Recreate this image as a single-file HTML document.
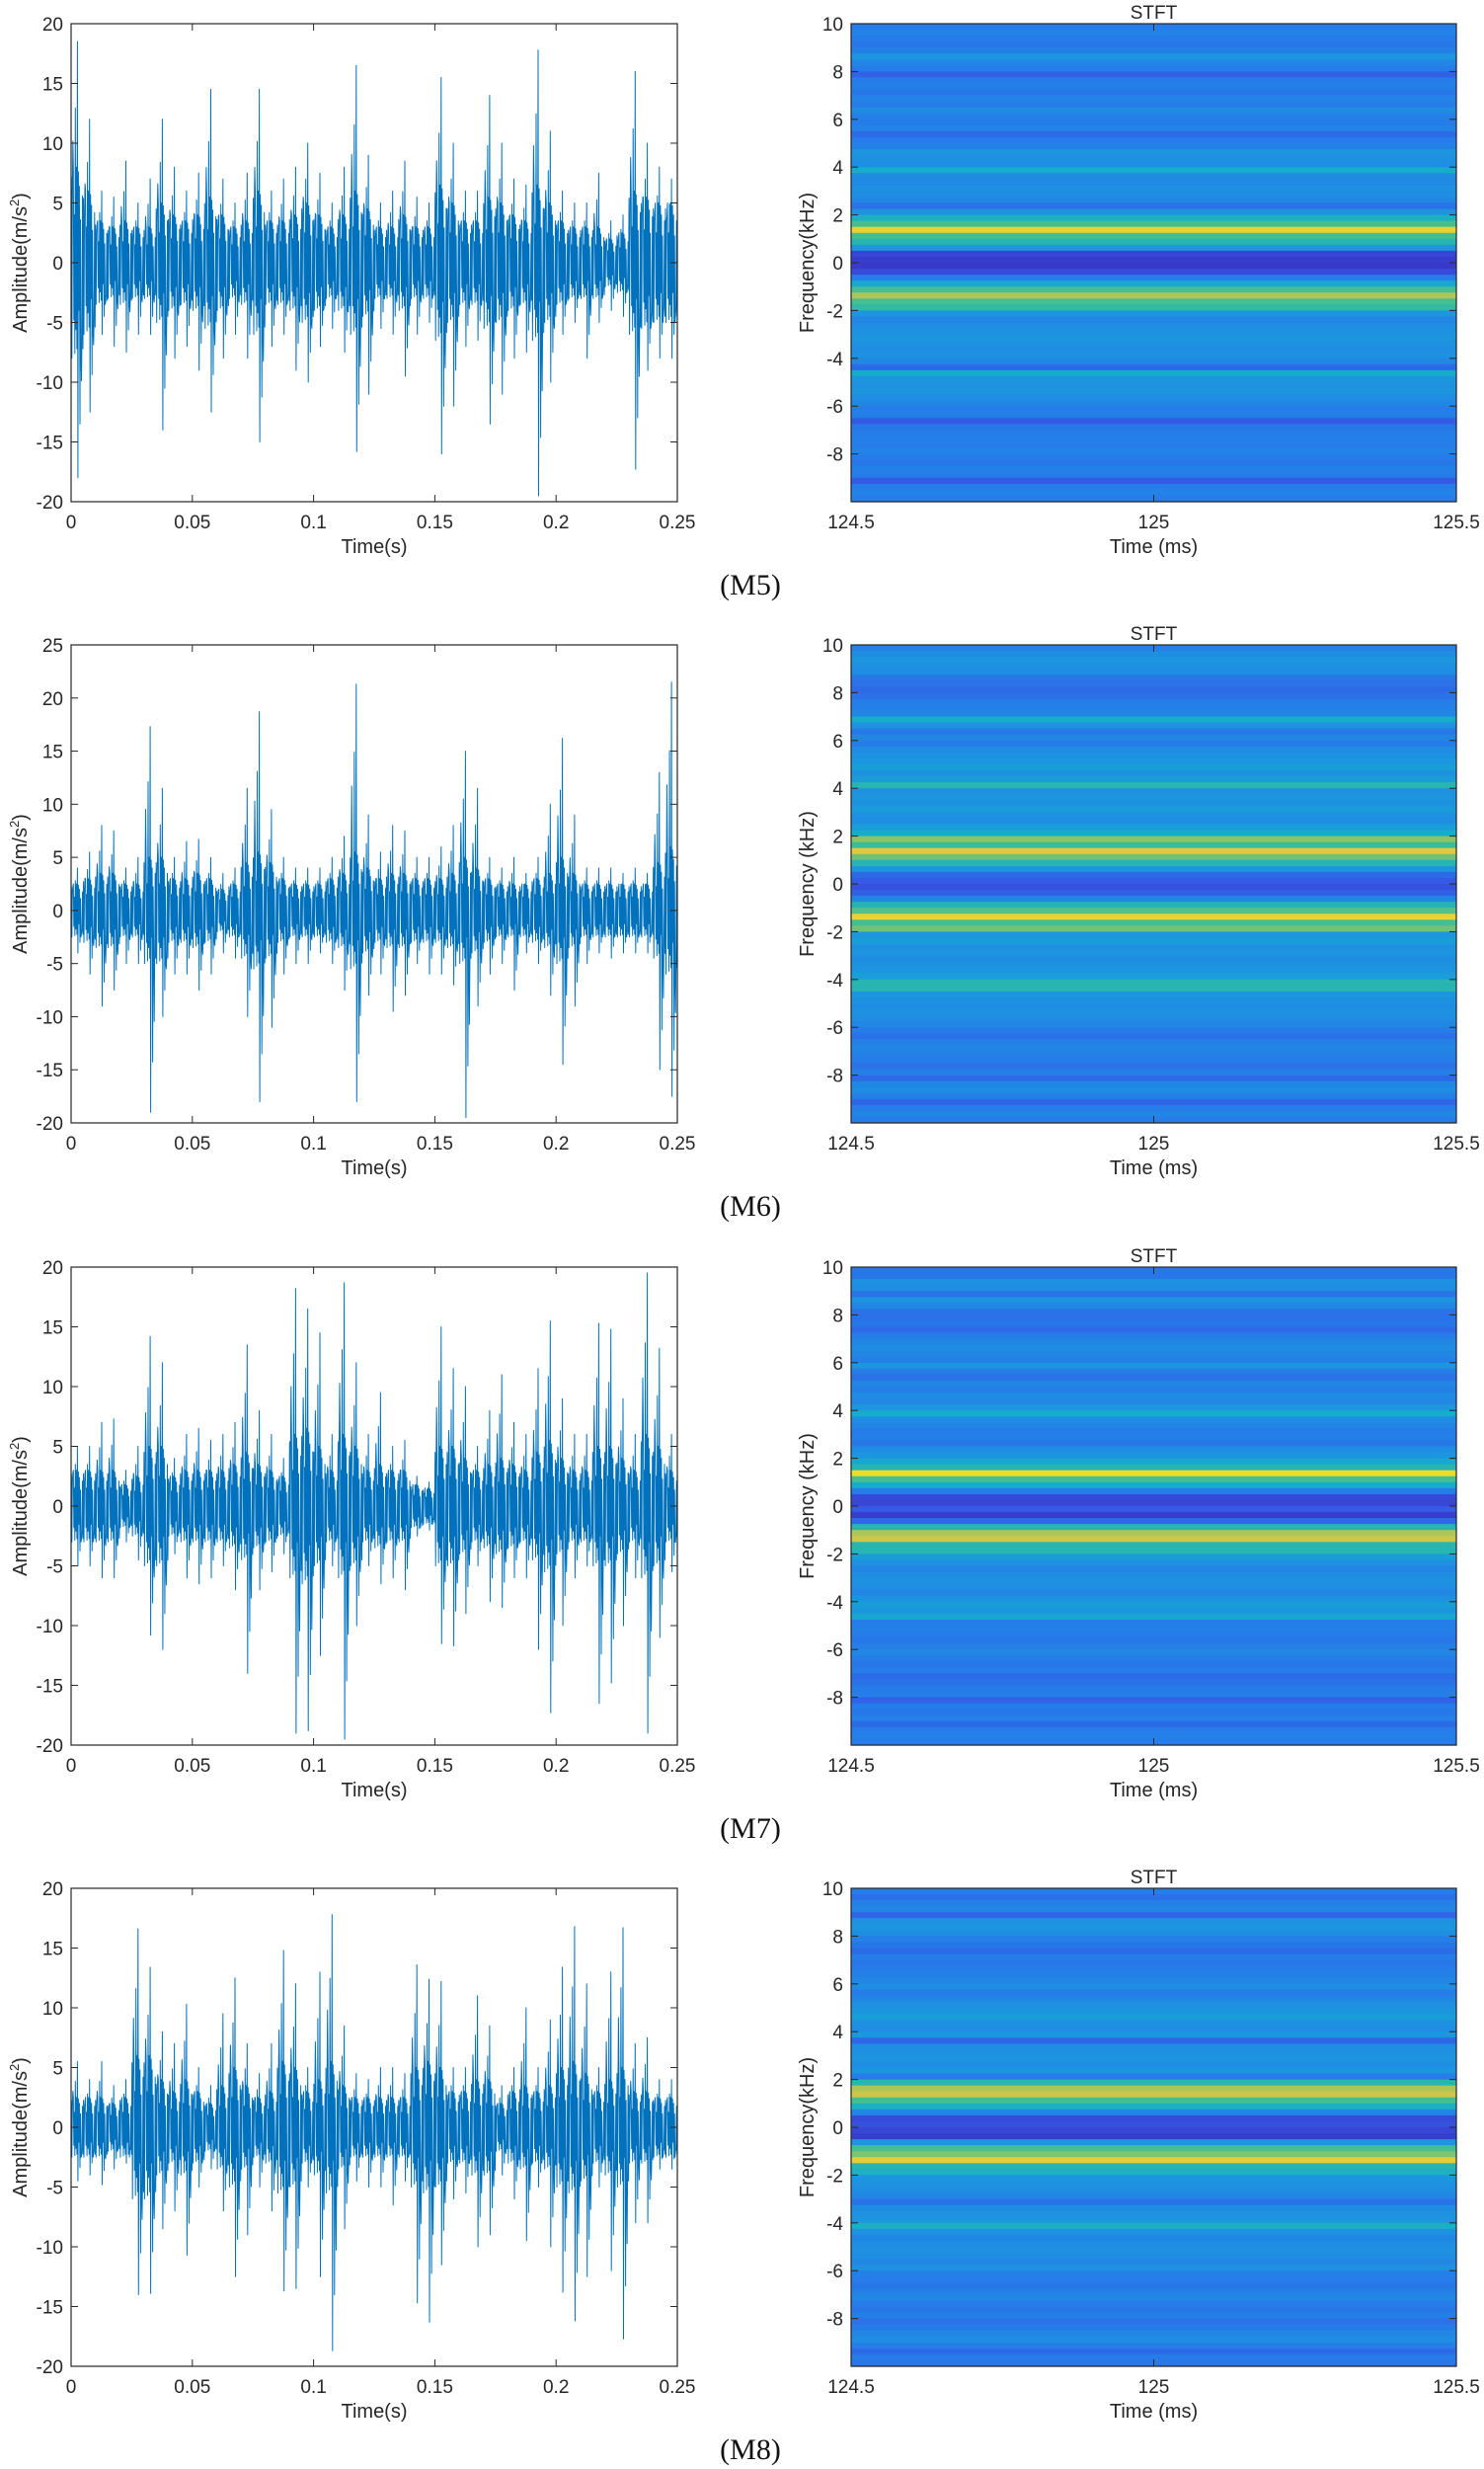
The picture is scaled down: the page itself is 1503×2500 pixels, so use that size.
<!DOCTYPE html>
<html><head><meta charset="utf-8"><style>
html,body{margin:0;padding:0;background:#fff;}
svg{display:block;}
text{font-family:"Liberation Sans",Arial,sans-serif;fill:#262626;}
.cap{font-family:"Liberation Serif","Times New Roman",serif;fill:#111;}
</style></head><body>
<svg id="fig" width="1503" height="2500" viewBox="0 0 1503 2500" xmlns="http://www.w3.org/2000/svg"></svg>
<script>
// ---------- data ----------
const panelLabels = ["(M5)","(M6)","(M7)","(M8)"];
const timeTicks = [0,0.05,0.1,0.15,0.2,0.25];
const timeTickLabels = ["0","0.05","0.1","0.15","0.2","0.25"];
const ampRanges = [[-20,20],[-20,25],[-20,20],[-20,20]];
const freqTicks = [10,8,6,4,2,0,-2,-4,-6,-8];
const stftTimeTicks = [124.5,125,125.5];
const stftTimeLabels = ["124.5","125","125.5"];
const freqLabels = ["Frequency(kHz)","Frequency (kHz)","Frequency (kHz)","Frequency(kHz)"];

// waveform envelopes, 50 bins of 5 ms each
const m5Hi=[18.5,12,6,5.5,8.5,5,7,12,8,6,7.5,14.5,7,5,7.5,14.5,6,7,8,10,7.5,5,8,16.5,9,5,6,8.5,5.5,5,15.5,10,6,6,14,10,7,6.5,17.8,11,6,5,5,7.5,3.5,4,16,10,8,7];
const m5Lo=[-18,-12.5,-6,-7,-7.5,-6,-6,-14,-8,-7,-9,-12.5,-8,-6,-8,-15,-7,-6,-9,-10,-7,-5.5,-7.5,-15.8,-11,-5.5,-6,-9.5,-6,-5,-16,-12,-7,-6.5,-13.5,-11,-8,-7.5,-19.5,-10,-6,-5,-8,-5,-4,-4.5,-17.3,-9,-8,-8];
const m5Core=[8,6,3.5,3,3.5,3,3,5,4,3.5,4,5.5,4,3,3.5,6,3.5,3.5,4,5,4,3,4,6,4.5,3,3,4,3,3,6.5,5,3.5,3.5,5.5,5,4,3.5,6.5,5,3.5,3,3,3,2,2.5,6,5.5,5,5];

const m6Hi=[4,5.5,8,7.5,4,5,17.3,11.5,5,6.5,6.7,5,3.5,4,11.5,18.7,9.5,5,4,4,4,5,7,21.3,9,5.5,8,7.5,5,5,6,8,15,11.5,5,4,5,3.5,5,10,16.2,9,4,4,4,3.5,4,3.5,13,21.5];
const m6Lo=[-4,-6,-9,-7.5,-5,-5,-19,-10,-6,-6,-7.5,-6,-4,-4.5,-10,-18,-11,-6,-5,-5,-4,-5,-7.5,-18,-8,-6,-9.5,-8,-5,-6,-6,-7,-19.5,-9,-6,-5,-7.5,-4,-5,-8,-14.5,-9,-5,-4,-4.5,-4,-4,-4,-15,-17.5];
const m6Core=[2.5,3,3.5,3.5,2.5,2.5,5,5,3,3,3.5,3,2,2.5,4.5,5.5,4.5,3,2.5,2.5,2.5,3,3.5,5.5,4,3,3.5,3.5,3,3,3,3.5,5,4,3,2.5,2.5,2.5,3,3.5,5,3.5,2.5,2.5,2.5,2.5,2.5,2.5,4.5,6];

const m7Hi=[5,5,7,7.3,3,5,14.2,12,4,6,6.5,5.5,6,7,13.5,8,6,4,18.2,16.5,14.5,6,18.7,12,6,9.5,5,5.5,2.5,2,15,11.5,10,5,8,11,7,6,11.5,15.5,9,6,6,15.3,14.8,9,6,19.5,13.2,6];
const m7Lo=[-5,-5,-6,-6,-3,-4.5,-10.8,-12,-4,-6,-6.5,-6,-5,-7,-14,-7,-5.5,-4,-19,-18.8,-12.5,-5,-19.5,-10,-5,-6.5,-6,-7,-2.5,-2,-11.5,-11.7,-9,-5,-8,-8.5,-6,-6,-12,-17.3,-10,-6,-5,-16.5,-14.8,-10,-6,-19,-11,-5.5];
const m7Core=[3,3,3,3,1.8,2.5,5,5,2.5,3,3,3,3,3.5,4.5,3.5,3,2.5,6,6.5,5,3,6,5,3,3.5,3,3,1.8,1.5,5,5,4,3,3.5,4,3.5,3,4.5,5.5,4,3,3,5,5,4,3,6,5,3];

const m8Hi=[5.5,4,5.5,3.5,4,16.6,13.4,8,7,10.3,5,3.5,9.5,12.5,7,4.5,7,14.8,12,5,13,17.8,8.5,4.5,4,5,5,4.5,13.6,12.4,12.2,5,5,11,8.5,3.5,5,10,5,9,13.4,16.8,12,5,13,16.7,7,7.5,4,4];
const m8Lo=[-4.5,-4,-4.8,-3.5,-3,-14,-13.9,-8.5,-7,-10.7,-5,-3.5,-7,-12.5,-9,-5,-7,-13.7,-13.5,-5,-12.5,-18.7,-8.5,-4.5,-5,-5,-6.5,-4.5,-14.7,-16.3,-11.5,-6,-5.5,-10,-9,-4,-6,-9.5,-5,-10,-13.8,-16.2,-12.5,-5,-12,-17.7,-8,-8,-3.5,-3.5];
const m8Core=[2.5,2.5,2.5,2,2.5,6,6,4,3,4,3,2,3.5,5,3.5,2.5,3,5.5,5,3,4,5.5,3.5,2.5,2.5,2.5,2.5,2.5,5,5.5,5,3,3,4,4,2,3,3.5,3,3.5,5,5.5,4.5,3,4,5,3,3,2.5,2.5];

// spectrogram magnitude (0..1), 80 rows of 0.25 kHz, from +10 kHz down to -10 kHz
const s5=[.30,.33,.30,.28,.32,.42,.35,.30,.18,.30,.32,.28,.33,.30,.38,.32,.30,.33,.22,.30,.32,.42,.40,.38,.50,.38,.36,.40,.38,.35,.25,.40,.52,.62,.92,.62,.55,.42,.08,.05,.04,.10,.30,.48,.62,.80,.62,.58,.42,.35,.38,.40,.42,.40,.38,.40,.36,.22,.50,.42,.40,.42,.38,.35,.30,.32,.15,.28,.30,.32,.30,.33,.30,.28,.32,.30,.15,.30,.33,.30];
const s6=[.32,.38,.42,.40,.38,.28,.25,.22,.25,.30,.32,.35,.50,.40,.28,.35,.30,.38,.40,.42,.45,.40,.45,.55,.40,.42,.40,.44,.40,.38,.45,.50,.75,.60,.88,.70,.55,.42,.22,.15,.12,.18,.35,.55,.65,.92,.62,.70,.42,.45,.40,.42,.38,.40,.42,.45,.55,.55,.42,.40,.38,.40,.38,.35,.30,.25,.32,.35,.32,.30,.25,.32,.22,.35,.38,.32,.20,.30,.35,.30];
const s7=[.28,.28,.40,.38,.25,.40,.35,.25,.25,.28,.22,.30,.35,.38,.35,.32,.42,.30,.25,.35,.32,.38,.35,.42,.50,.38,.35,.30,.32,.28,.38,.42,.48,.55,.95,.62,.50,.30,.10,.08,.15,.05,.22,.55,.80,.85,.55,.55,.45,.40,.35,.38,.40,.38,.35,.40,.45,.42,.48,.30,.32,.30,.28,.32,.35,.30,.28,.30,.22,.25,.30,.32,.18,.30,.28,.32,.22,.30,.32,.30];
const s8=[.30,.25,.32,.35,.20,.40,.42,.38,.32,.28,.22,.30,.28,.30,.32,.35,.38,.30,.35,.40,.42,.45,.40,.38,.42,.20,.38,.40,.42,.38,.42,.30,.55,.80,.85,.62,.52,.35,.10,.12,.08,.05,.42,.62,.72,.90,.55,.52,.42,.40,.38,.35,.25,.38,.40,.42,.52,.40,.35,.38,.40,.38,.35,.40,.32,.30,.28,.32,.35,.30,.28,.32,.25,.30,.35,.38,.32,.22,.30,.28];

const waveHi=[m5Hi,m6Hi,m7Hi,m8Hi];
const waveLo=[m5Lo,m6Lo,m7Lo,m8Lo];
const waveCore=[m5Core,m6Core,m7Core,m8Core];
const spec=[s5,s6,s7,s8];

// ---------- layout ----------
const NS="http://www.w3.org/2000/svg";
const svg=document.getElementById('fig');
const rowTop=[24,653,1283,1912];
const axH=484;
const L={x0:72,x1:686};
const R={x0:862,x1:1475};
function mk(tag,attrs,parent){const e=document.createElementNS(NS,tag);for(const k in attrs)e.setAttribute(k,attrs[k]);(parent||svg).appendChild(e);return e;}

const cmapStops=[[0,[59,47,192]],[0.15,[52,90,230]],[0.3,[38,124,232]],[0.42,[28,150,222]],[0.5,[22,172,204]],[0.6,[58,190,152]],[0.75,[140,196,104]],[0.88,[224,200,64]],[1,[248,232,24]]];
function cmap(v){v=Math.max(0,Math.min(1,v));for(let i=1;i<cmapStops.length;i++){if(v<=cmapStops[i][0]){const a=cmapStops[i-1],b=cmapStops[i];const t=(v-a[0])/(b[0]-a[0]);const c=a[1].map((x,j)=>Math.round(x+(b[1][j]-x)*t));return `rgb(${c[0]},${c[1]},${c[2]})`;}}return 'rgb(248,232,24)';}

// stroke pattern within a bin (drawing style only)
const pat=[0.9,-1,0.7,-0.8,1,-0.6,0.5,-0.95,0.85,-0.7,1,-0.9,0.6,-1,0.95,-0.5,0.8,-0.85,0.45,-1,1,-0.75,0.7,-0.9];

for(let r=0;r<4;r++){
  const top=rowTop[r], bot=top+axH;
  const g=mk('g',{});
  
  
  // ---- waveform ----
  const [ymin,ymax]=ampRanges[r];
  const xS=t=>L.x0+(t/0.25)*(L.x1-L.x0);
  const yS=v=>bot-(v-ymin)/(ymax-ymin)*axH;
  const wg=mk('g',{},g);
  
  
  const hi=waveHi[r],lo=waveLo[r],core=waveCore[r];
  const n=hi.length, bw=0.25/n;
  let pts=[];
  const N=pat.length;
  for(let i=0;i<n;i++){
    for(let j=0;j<N;j++){
      const t=i*bw+(j+0.5)/N*bw;
      let v;
      const mid=Math.floor(N/2);
      if(j===mid) v=hi[i];
      else if(j===mid+1) v=lo[i];
      else if(j===mid-4) v=hi[i]*0.7;
      else if(j===mid+5) v=lo[i]*0.75;
      else if(j===3) v=hi[i]*0.55;
      else if(j===N-4) v=lo[i]*0.55;
      else v=core[i]*pat[j];
      pts.push(xS(t).toFixed(1)+','+yS(v).toFixed(1));
    }
  }
  const line=mk('polyline',{points:pts.join(' '),fill:'none',stroke:'#0072BD','stroke-width':'1','stroke-linejoin':'round'},wg);
  
  
  const fr=mk('rect',{x:L.x0,y:top,width:L.x1-L.x0,height:axH,fill:'none',stroke:'#262626','stroke-width':'1.2'},wg);
  
  
  timeTicks.forEach((t,k)=>{
    const x=xS(t);
    mk('line',{x1:x,x2:x,y1:bot,y2:bot-7,stroke:'#262626','stroke-width':'1'},wg);
    mk('line',{x1:x,x2:x,y1:top,y2:top+7,stroke:'#262626','stroke-width':'1'},wg);
    const tx=mk('text',{x:x,y:bot+27,'font-size':'19','text-anchor':'middle'},wg);
    tx.textContent=timeTickLabels[k];
    
    
  });
  for(let v=ymin;v<=ymax;v+=5){
    const y=yS(v);
    mk('line',{x1:L.x0,x2:L.x0+7,y1:y,y2:y,stroke:'#262626','stroke-width':'1'},wg);
    mk('line',{x1:L.x1,x2:L.x1-7,y1:y,y2:y,stroke:'#262626','stroke-width':'1'},wg);
    const tx=mk('text',{x:L.x0-8,y:y+7,'font-size':'19','text-anchor':'end'},wg);
    tx.textContent=String(v);
    
    
  }
  const xl=mk('text',{x:(L.x0+L.x1)/2,y:bot+52,'font-size':'20','text-anchor':'middle'},wg);
  xl.textContent='Time(s)';
  
  
  const yl=mk('text',{x:0,y:0,'font-size':'20','text-anchor':'middle',transform:`translate(27,${(top+bot)/2}) rotate(-90)`},wg);
  yl.innerHTML='Amplitude(m/s<tspan dy="-8" font-size="13">2</tspan><tspan dy="8">)</tspan>';
  
  

  // ---- spectrogram ----
  const sg=mk('g',{},g);
  
  
  const fS=f=>top+(10-f)/20*axH;
  const tS=t=>R.x0+(t-124.5)/1*(R.x1-R.x0);
  const rows=spec[r];
  const df=20/rows.length;
  rows.forEach((v,k)=>{
    const y0=fS(10-k*df), y1=fS(10-(k+1)*df);
    const c=mk('rect',{x:R.x0,y:y0.toFixed(2),width:R.x1-R.x0,height:(y1-y0+0.6).toFixed(2),fill:cmap(v)},sg);
    
    
  });
  const sf=mk('rect',{x:R.x0,y:top,width:R.x1-R.x0,height:axH,fill:'none',stroke:'#262626','stroke-width':'1.2'},sg);
  
  
  stftTimeTicks.forEach((t,k)=>{
    const x=tS(t);
    mk('line',{x1:x,x2:x,y1:bot,y2:bot-7,stroke:'#262626','stroke-width':'1'},sg);
    mk('line',{x1:x,x2:x,y1:top,y2:top+7,stroke:'#262626','stroke-width':'1'},sg);
    const tx=mk('text',{x:x,y:bot+27,'font-size':'19','text-anchor':'middle'},sg);
    tx.textContent=stftTimeLabels[k];
    
    
  });
  freqTicks.forEach(f=>{
    const y=fS(f);
    mk('line',{x1:R.x0,x2:R.x0+7,y1:y,y2:y,stroke:'#262626','stroke-width':'1'},sg);
    mk('line',{x1:R.x1,x2:R.x1-7,y1:y,y2:y,stroke:'#262626','stroke-width':'1'},sg);
    const tx=mk('text',{x:R.x0-8,y:y+7,'font-size':'19','text-anchor':'end'},sg);
    tx.textContent=String(f);
    
    
  });
  const st=mk('text',{x:(R.x0+R.x1)/2,y:top-5,'font-size':'19','text-anchor':'middle'},sg);
  st.textContent='STFT';
  
  
  const sxl=mk('text',{x:(R.x0+R.x1)/2,y:bot+52,'font-size':'20','text-anchor':'middle'},sg);
  sxl.textContent='Time (ms)';
  
  
  const syl=mk('text',{x:0,y:0,'font-size':'20','text-anchor':'middle',transform:`translate(824,${(top+bot)/2}) rotate(-90)`},sg);
  syl.textContent=freqLabels[r];
  
  

  // caption
  const cp=mk('text',{x:760,y:bot+94,'font-size':'30','text-anchor':'middle',class:'cap'},g);
  cp.textContent=panelLabels[r];
  
  
}
</script>
</body></html>
